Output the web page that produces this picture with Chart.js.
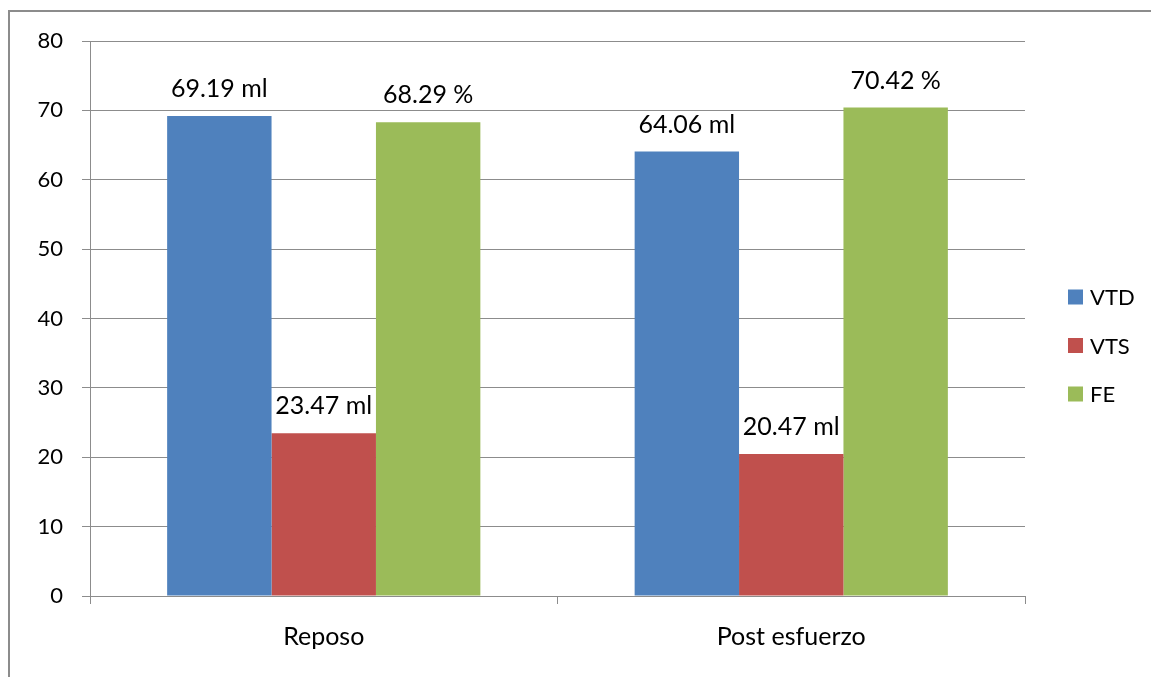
<!DOCTYPE html>
<html lang="es">
<head>
<meta charset="utf-8">
<title>VTD / VTS / FE</title>
<script src="https://cdn.jsdelivr.net/npm/chart.js@4/dist/chart.umd.min.js"></script>
<style>
    html, body { margin: 0; padding: 0; background: #ffffff; }
    #volumeChart { display: block; }
</style>
</head>
<body>
<canvas id="volumeChart" width="1151" height="677"></canvas>
<script>
// Chart data
const categories = ['Reposo', 'Post esfuerzo'];
const seriesNames = ['VTD', 'VTS', 'FE'];
const seriesUnits = ['ml', 'ml', '%'];
const vtdValues = [69.19, 64.06];
const vtsValues = [23.47, 20.47];
const feValues = [68.29, 70.42];
const yTicks = [0, 10, 20, 30, 40, 50, 60, 70, 80];

(function() {
    'use strict';

    const colors = ['#4F81BD', '#C0504D', '#9BBB59'];
    const axisGray = '#8c8c8c';
    const FONT = 'Lato';

    /**
     * Outer frame of the chart object (only the left and top edges are visible)
     */
    const framePlugin = {
        id: 'frame',
        beforeDraw(chart) {
            const ctx = chart.ctx;
            ctx.save();
            ctx.strokeStyle = axisGray;
            ctx.lineWidth = 2;
            ctx.beginPath();
            ctx.moveTo(9, chart.height);
            ctx.lineTo(9, 11);
            ctx.lineTo(chart.width, 11);
            ctx.stroke();
            ctx.restore();
        }
    };

    /**
     * Value labels above each bar, e.g. "69.19 ml"
     */
    const valueLabelPlugin = {
        id: 'valueLabels',
        afterDatasetsDraw(chart) {
            const ctx = chart.ctx;
            ctx.save();
            ctx.font = '25px ' + FONT;
            ctx.fillStyle = '#000000';
            ctx.textAlign = 'center';
            ctx.textBaseline = 'middle';
            chart.data.datasets.forEach((ds, i) => {
                const meta = chart.getDatasetMeta(i);
                meta.data.forEach((bar, j) => {
                    const text = ds.data[j].toFixed(2) + ' ' + seriesUnits[i];
                    ctx.fillText(text, bar.x, bar.y - 27);
                });
            });
            ctx.restore();
        }
    };

    /**
     * Legend drawn on the right, vertically stacked
     */
    const sideLegendPlugin = {
        id: 'sideLegend',
        afterDraw(chart) {
            const ctx = chart.ctx;
            const startY = 297;
            const step = 48.5;
            ctx.save();
            ctx.font = '22px ' + FONT;
            ctx.textAlign = 'left';
            ctx.textBaseline = 'middle';
            chart.data.datasets.forEach((ds, i) => {
                const cy = startY + i * step;
                ctx.fillStyle = ds.backgroundColor;
                ctx.fillRect(1068, cy - 7.5, 15, 15);
                ctx.fillStyle = '#000000';
                ctx.fillText(ds.label, 1090, cy + 1);
            });
            ctx.restore();
        }
    };

    function initVolumeChart() {
        const canvas = document.getElementById('volumeChart');
        if (!canvas) return;

        Chart.defaults.font.family = FONT;
        Chart.defaults.font.size = 22;
        Chart.defaults.color = '#000000';

        const seriesValues = [vtdValues, vtsValues, feValues];

        new Chart(canvas.getContext('2d'), {
            type: 'bar',
            data: {
                labels: categories,
                datasets: seriesNames.map((name, i) => ({
                    label: name,
                    data: seriesValues[i],
                    backgroundColor: colors[i],
                    borderWidth: 0,
                    categoryPercentage: 0.67,
                    barPercentage: 1.0
                }))
            },
            options: {
                responsive: false,
                animation: false,
                layout: {
                    padding: { top: 41, right: 126, bottom: 0, left: 0 }
                },
                plugins: {
                    legend: { display: false },
                    tooltip: { enabled: false }
                },
                scales: {
                    x: {
                        grid: {
                            offset: true,
                            drawOnChartArea: false,
                            drawTicks: true,
                            tickLength: 8,
                            color: axisGray
                        },
                        border: { display: true, color: axisGray },
                        ticks: { padding: 18, font: { size: 25 } },
                        afterFit(scale) { scale.height = 81; }
                    },
                    y: {
                        min: yTicks[0],
                        max: yTicks[yTicks.length - 1],
                        afterBuildTicks(scale) {
                            scale.ticks = yTicks.map(v => ({ value: v }));
                        },
                        grid: {
                            color: axisGray,
                            tickLength: 8
                        },
                        border: { display: true, color: axisGray },
                        ticks: { padding: 19, font: { size: 22 } },
                        afterFit(scale) { scale.width = 90; }
                    }
                }
            },
            plugins: [framePlugin, valueLabelPlugin, sideLegendPlugin]
        });
    }

    document.addEventListener('DOMContentLoaded', initVolumeChart);
})();
</script>
</body>
</html>
